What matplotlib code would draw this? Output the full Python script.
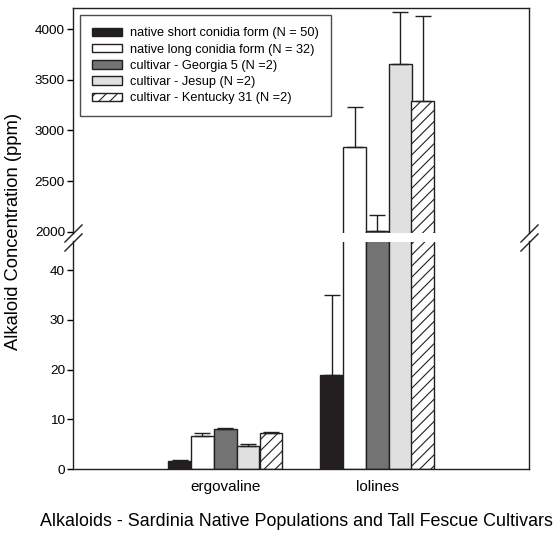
import numpy as np
import matplotlib
matplotlib.use("Agg")
from matplotlib import pyplot as plt

plt.rcParams['font.family'] = ['Liberation Sans', 'DejaVu Sans']
plt.rcParams['hatch.linewidth'] = 0.8

# datos
categories = ['ergovaline', 'lolines']
labels = ['native short conidia form (N = 50)',
          'native long conidia form (N = 32)',
          'cultivar - Georgia 5 (N =2)',
          'cultivar - Jesup (N =2)',
          'cultivar - Kentucky 31 (N =2)']
short_vals = [1.55, 19.0]
short_err = [0.25, 16.0]
long_vals = [6.7, 2840]
long_err = [0.5, 390]
georgia_vals = [8.0, 2010]
georgia_err = [0.25, 157]
jesup_vals = [4.7, 3660]
jesup_err = [0.3, 507]
kentucky_vals = [7.2, 3290]
kentucky_err = [0.25, 838]

series = [short_vals, long_vals, georgia_vals, jesup_vals, kentucky_vals]
errors = [short_err, long_err, georgia_err, jesup_err, kentucky_err]
colors = ['#231f20', 'white', '#737373', '#e0e0e0', 'white']
hatches = [None, None, None, None, '///']

W, H = 557, 533
fig = plt.figure(figsize=(W/100, H/100), dpi=100)

left = 73.3/W
width = (529.3-73.3)/W
ax_low = fig.add_axes([left, (H-469)/H, width, (469-241.5)/H])
ax_up = fig.add_axes([left, (H-232.5)/H, width, (232.5-8.3)/H])

x = np.arange(1, len(categories)+1)
bw = 0.15
edge = '#231f20'

for ax in (ax_low, ax_up):
    for i, (vals, err) in enumerate(zip(series, errors)):
        pos = x + (i-2)*bw
        ax.bar(pos, vals, bw, color=colors[i], edgecolor=edge, linewidth=1.0,
               hatch=hatches[i], label=labels[i], zorder=2)
        ax.errorbar(pos, vals, yerr=[np.zeros(len(err)), err], fmt='none',
                    ecolor=edge, elinewidth=1.0, capsize=5.5, capthick=1.0, zorder=3)
    ax.set_xlim(0, 3)
    for s in ax.spines.values():
        s.set_color('#231f20')
        s.set_linewidth(1.0)
    ax.tick_params(axis='y', direction='out', length=4, width=1, labelsize=9.7, pad=2)

ax_low.set_ylim(0, 45.8)
ax_low.set_yticks([0, 10, 20, 30, 40])
ax_low.spines['top'].set_visible(False)
ax_low.set_xticks(x)
ax_low.set_xticklabels(categories, fontsize=11)
ax_low.tick_params(axis='x', length=0, pad=8)

ax_up.set_ylim(1992, 4207)
ax_up.set_yticks([2000, 2500, 3000, 3500, 4000])
ax_up.spines['bottom'].set_visible(False)
ax_up.set_xticks([])

# marcas de corte del eje
kw = dict(marker=[(-1, -1), (1, 1)], markersize=13, linestyle='none',
          color='#231f20', mec='#231f20', mew=1.0, clip_on=False)
ax_up.plot([0, 1], [0, 0], transform=ax_up.transAxes, **kw)
ax_low.plot([0, 1], [1, 1], transform=ax_low.transAxes, **kw)

leg = ax_up.legend(loc='upper left', fontsize=9.2, frameon=True, fancybox=False,
                   handlelength=2.3, handleheight=0.65, handletextpad=0.6,
                   labelspacing=0.33, borderpad=0.95, borderaxespad=0.55)
leg.get_frame().set_edgecolor('#231f20')
leg.get_frame().set_linewidth(1.0)

fig.text(14/W, 1-231/H, 'Alkaloid Concentration (ppm)', rotation=90,
         ha='center', va='center', fontsize=13.2)
fig.text(296/W, 1-522/H, 'Alkaloids - Sardinia Native Populations and Tall Fescue Cultivars',
         ha='center', va='center', fontsize=12.9)

fig.savefig('out.png', dpi=100)
